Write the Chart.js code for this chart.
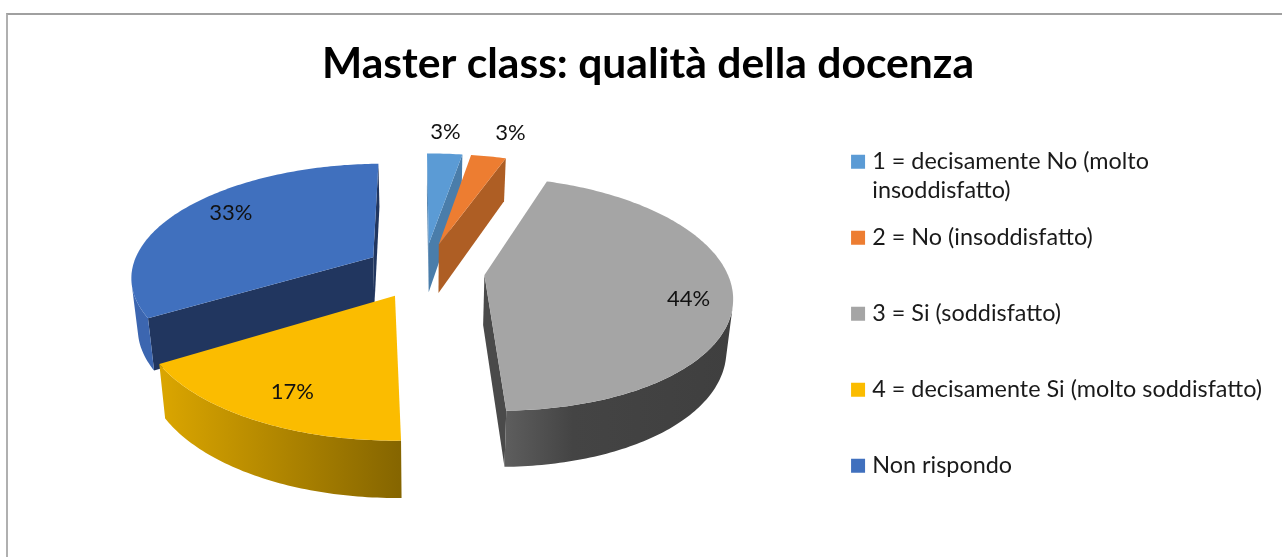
<!doctype html>
<html lang="it">
<head>
<meta charset="utf-8">
<title>Master class: qualità della docenza</title>
<script src="https://cdn.jsdelivr.net/npm/chart.js"></script>
<style>
    html, body { margin: 0; padding: 0; background: #fff; overflow: hidden; }
    #wrap { position: relative; width: 1282px; height: 557px; }
    #frame { position: absolute; left: 6px; top: 13px; right: 0; bottom: 0; border-top: 2px solid #a0a0a0; border-left: 2px solid #b0b0b0; }
    canvas { position: absolute; left: 0; top: 0; }
</style>
</head>
<body>
<div id="wrap">
    <div id="frame"></div>
    <canvas id="torta" width="1282" height="557"></canvas>
</div>
<script>
// dati
var chartTitle = 'Master class: qualità della docenza';
var categories = [
    ['1 = decisamente No (molto', 'insoddisfatto)'],
    ['2 = No (insoddisfatto)', ''],
    ['3 = Si (soddisfatto)', ''],
    ['4 = decisamente Si (molto soddisfatto)', ''],
    ['Non rispondo', '']
];
var percentages = [2.8, 2.8, 44.4, 16.7, 33.3];

// colori
var topColors = ['#5B9BD5', '#ED7D31', '#A5A5A5', '#FBBC00', '#4070BE'];
var cutColors = ['#4A7DAA', '#AE5E24', '#4A4A4A', '#8A6A00', '#21365F'];
var rimStops = [
    [[0, '#4A7DAA'], [1, '#4A7DAA']],
    [[0, '#AE5E24'], [1, '#AE5E24']],
    [[0, '#5E5E5E'], [0.3, '#444444'], [1, '#3F3F3F']],
    [[0, '#DBA600'], [1, '#856500']],
    [[0, '#3C66B0'], [1, '#3C66B0']]
];

// vista 3D della torta
var PIE_RADIUS = 242, TILT = 0.465, PERSPECTIVE = 0.16, THICKNESS = 50, THICK_PERSP = 0.12, BOTTOM_SHRINK = 0.022;
var BOW_FRONT = 4, BOW_BACK = 2;
var NUDGE_X = -6, NUDGE_Y = -74;
var labelRho = [1.22, 1.2, 0.83, 0.75, 0.75];
var labelNudge = [[-3, -5], [13, -9], [-1, 9], [0, 7], [2, -7]];

function project(arc, u, v, bottom) {
    var cx = arc.x + NUDGE_X, cy = arc.y + NUDGE_Y;
    var w = 1 + PERSPECTIVE * v / PIE_RADIUS;
    var sx = u / w, sy = -v * TILT / w;
    sx += (v < 0 ? BOW_FRONT : BOW_BACK) * (v / PIE_RADIUS) * (v / PIE_RADIUS);
    if (bottom) {
        sx *= 1 - BOTTOM_SHRINK;
        sy += THICKNESS * (1 - THICK_PERSP * v / PIE_RADIUS);
    }
    return { x: cx + sx, y: cy + sy };
}

function polar(arc, theta, rho, shift) {
    var mid = (arc.startAngle + arc.endAngle) / 2 + Math.PI / 2;
    return {
        u: shift * Math.sin(mid) + rho * PIE_RADIUS * Math.sin(theta),
        v: shift * Math.cos(mid) + rho * PIE_RADIUS * Math.cos(theta)
    };
}

function fillPoly(ctx, pts, style) {
    ctx.beginPath();
    pts.forEach(function (p, i) { i ? ctx.lineTo(p.x, p.y) : ctx.moveTo(p.x, p.y); });
    ctx.closePath();
    ctx.fillStyle = style;
    ctx.fill();
}

function frontFacing(q) {
    var a = 0;
    for (var i = 0; i < q.length; i++) {
        var n = q[(i + 1) % q.length];
        a += q[i].x * n.y - n.x * q[i].y;
    }
    return a < 0;
}

function drawSlice(ctx, arc, i) {
    var shift = arc.options.offset;
    var t0 = arc.startAngle + Math.PI / 2, t1 = arc.endAngle + Math.PI / 2;
    var apex = polar(arc, t0, 0, shift);
    var steps = Math.max(8, Math.ceil((t1 - t0) * 60));
    var outline = [];
    for (var s = 0; s <= steps; s++) {
        outline.push(polar(arc, t0 + (t1 - t0) * s / steps, 1, shift));
    }
    var top = outline.map(function (p) { return project(arc, p.u, p.v, false); });
    var bot = outline.map(function (p) { return project(arc, p.u, p.v, true); });
    var apexTop = project(arc, apex.u, apex.v, false), apexBot = project(arc, apex.u, apex.v, true);

    // lati del taglio
    var q1 = [apexTop, top[0], bot[0], apexBot];
    var q2 = [top[steps], apexTop, apexBot, bot[steps]];
    if (frontFacing(q1)) fillPoly(ctx, q1, cutColors[i]);
    if (frontFacing(q2)) fillPoly(ctx, q2, cutColors[i]);

    // bordo esterno, solo la parte visibile
    var upper = [], lower = [];
    for (var k = 0; k < steps; k++) {
        if (frontFacing([top[k], top[k + 1], bot[k + 1], bot[k]])) {
            if (!upper.length) { upper.push(top[k]); lower.push(bot[k]); }
            upper.push(top[k + 1]); lower.push(bot[k + 1]);
        }
    }
    if (upper.length) {
        var xs = upper.concat(lower).map(function (p) { return p.x; });
        var g = ctx.createLinearGradient(Math.min.apply(null, xs), 0, Math.max.apply(null, xs), 0);
        rimStops[i].forEach(function (st) { g.addColorStop(st[0], st[1]); });
        fillPoly(ctx, upper.concat(lower.reverse()), g);
    }

    // faccia superiore
    fillPoly(ctx, [apexTop].concat(top), topColors[i]);
}

var pie3d = {
    id: 'pie3d',
    beforeDatasetDraw: function (chart, args) {
        var ctx = chart.ctx, arcs = chart.getDatasetMeta(args.index).data;
        var order = arcs.map(function (a, i) { return i; }).sort(function (a, b) {
            var ma = (arcs[a].startAngle + arcs[a].endAngle) / 2 + Math.PI / 2;
            var mb = (arcs[b].startAngle + arcs[b].endAngle) / 2 + Math.PI / 2;
            return Math.cos(mb) - Math.cos(ma);
        });
        ctx.save();
        order.forEach(function (i) { drawSlice(ctx, arcs[i], i); });

        // etichette percentuali
        ctx.font = '22px Lato';
        ctx.fillStyle = '#111';
        ctx.textAlign = 'center';
        ctx.textBaseline = 'middle';
        arcs.forEach(function (arc, i) {
            var mid = (arc.startAngle + arc.endAngle) / 2 + Math.PI / 2;
            var p = polar(arc, mid, labelRho[i], arc.options.offset);
            var s = project(arc, p.u, p.v, false);
            ctx.fillText(Math.round(percentages[i]) + '%', s.x + labelNudge[i][0], s.y + labelNudge[i][1]);
        });
        ctx.restore();
        return false;
    }
};

new Chart(document.getElementById('torta'), {
    type: 'pie',
    data: {
        labels: categories,
        datasets: [{
            data: percentages,
            backgroundColor: topColors,
            borderWidth: 0,
            offset: 60
        }]
    },
    options: {
        responsive: false,
        animation: false,
        rotation: -1.2,
        layout: { padding: { left: 24, right: 10 } },
        plugins: {
            title: {
                display: true,
                text: chartTitle,
                color: '#000',
                font: { family: 'Lato', size: 42.6, weight: 'bold' },
                padding: { top: 39, bottom: 42 }
            },
            legend: {
                position: 'right',
                align: 'start',
                fullSize: false,
                labels: {
                    usePointStyle: true,
                    pointStyle: 'rect',
                    boxWidth: 5,
                    boxHeight: 14,
                    padding: 18,
                    color: '#1a1a1a',
                    font: { family: 'Lato', size: 23.4, lineHeight: 29 / 23.4 }
                }
            },
            tooltip: { enabled: false }
        }
    },
    plugins: [pie3d]
});
</script>
</body>
</html>
